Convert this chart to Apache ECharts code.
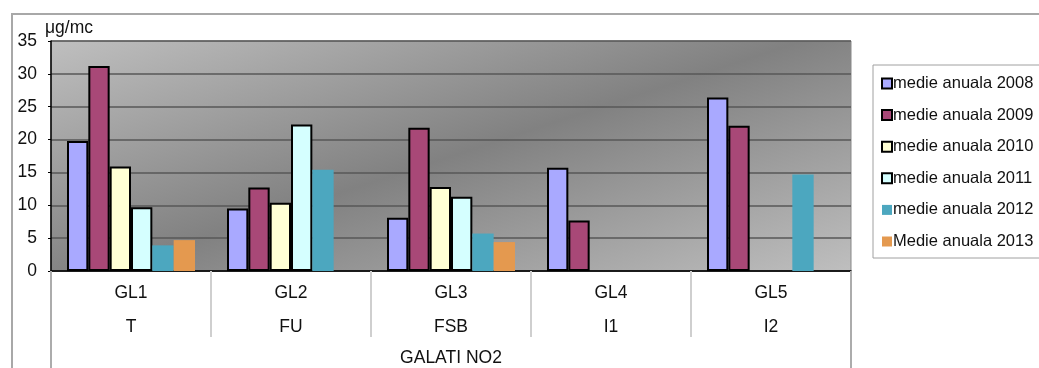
<!DOCTYPE html>
<html>
<head>
<meta charset="utf-8">
<script src="https://cdn.jsdelivr.net/npm/echarts@6/dist/echarts.min.js"></script>
<style>
  html, body { margin: 0; padding: 0; background: #ffffff; }
  #chart { width: 1039px; height: 368px; }
</style>
</head>
<body>
<div id="chart"></div>
<script>
// Annual NO2 means per monitoring station, Galati
const stations = ['GL1', 'GL2', 'GL3', 'GL4', 'GL5'];
const stationTypes = ['T', 'FU', 'FSB', 'I1', 'I2'];
const groupLabel = ['GALATI NO2'];
const unitLabel = 'μg/mc';

const seriesNames = [
  'medie anuala 2008',
  'medie anuala 2009',
  'medie anuala 2010',
  'medie anuala 2011',
  'medie anuala 2012',
  'Medie anuala 2013'
];

const mean2008 = [19.8, 9.5, 8.1, 15.7, 26.4];
const mean2009 = [31.2, 12.7, 21.8, 7.7, 22.1];
const mean2010 = [15.9, 10.4, 12.8, null, null];
const mean2011 = [9.7, 22.3, 11.3, null, null];
const mean2012 = [3.9, 15.4, 5.7, null, 14.7];
const mean2013 = [4.7, null, 4.4, null, null];

const yTicks = [0, 5, 10, 15, 20, 25, 30, 35];

const seriesValues = [mean2008, mean2009, mean2010, mean2011, mean2012, mean2013];
const fills = ['#a9a9ff', '#a84877', '#ffffd5', '#d5ffff', '#4ca7bf', '#e4994f'];
const outlined = [true, true, true, true, false, false];

const FONT = '"Liberation Sans", Arial, sans-serif';

const chart = echarts.init(document.getElementById('chart'), null, { renderer: 'canvas' });

const series = seriesValues.map((vals, i) => ({
  name: seriesNames[i],
  type: 'bar',
  data: vals,
  barGap: '0%',
  barCategoryGap: '20%',
  itemStyle: {
    color: fills[i],
    borderColor: outlined[i] ? '#000000' : fills[i],
    borderWidth: outlined[i] ? 2 : 0
  },
  emphasis: { disabled: true }
}));

chart.setOption({
  animation: false,
  backgroundColor: '#ffffff',
  textStyle: { fontFamily: FONT },
  graphic: [{
    type: 'rect',
    shape: { x: 12, y: 14, width: 1100, height: 420 },
    style: { fill: 'none', stroke: '#a8a8a8', lineWidth: 2 },
    silent: true,
    z: -10
  }],
  legend: {
    orient: 'vertical',
    left: 873,
    top: 65,
    padding: [10, 14, 8, 8],
    itemGap: 14.6,
    itemWidth: 10,
    itemHeight: 10,
    borderColor: '#a0a0a0',
    borderWidth: 1,
    icon: 'rect',
    selectedMode: false,
    textStyle: { fontFamily: FONT, fontSize: 16.5, color: '#111111', padding: [0, 0, 0, -4] },
    data: seriesNames
  },
  grid: {
    left: 51,
    top: 41,
    width: 800,
    height: 230,
    show: true,
    borderColor: '#888888',
    borderWidth: 1,
    backgroundColor: {
      type: 'linear',
      x: 0, y: 0, x2: 0.183, y2: 1.933,
      colorStops: [
        { offset: 0, color: '#bfbfbf' },
        { offset: 0.5, color: '#818181' },
        { offset: 1, color: '#bfbfbf' }
      ]
    }
  },
  xAxis: [{
    type: 'category',
    data: stations,
    position: 'bottom',
    axisLine: { show: true, lineStyle: { color: '#000000', width: 1.5 } },
    axisTick: { show: true, interval: 0, length: 66, lineStyle: { color: '#cfcfcf', width: 2 } },
    axisLabel: {
      interval: 0,
      margin: 5,
      fontFamily: FONT,
      fontSize: 17.5,
      lineHeight: 34,
      color: '#111111',
      formatter: (v, idx) => v + '\n' + stationTypes[idx]
    },
    splitLine: { show: false }
  }, {
    type: 'category',
    data: groupLabel,
    position: 'bottom',
    axisLine: { show: false },
    axisTick: { show: true, interval: 0, length: 97, lineStyle: { color: '#acacac', width: 2 } },
    axisLabel: { margin: 78, fontFamily: FONT, fontSize: 17.5, color: '#111111' },
    splitLine: { show: false }
  }],
  yAxis: {
    type: 'value',
    min: yTicks[0],
    max: yTicks[yTicks.length - 1],
    interval: yTicks[1] - yTicks[0],
    name: unitLabel,
    nameLocation: 'end',
    nameGap: 4,
    nameTextStyle: { fontFamily: FONT, fontSize: 17.5, color: '#111111', align: 'left', padding: [0, 0, 0, -6] },
    axisLine: { show: true, lineStyle: { color: '#000000', width: 1.5 } },
    axisTick: { show: true, length: 3, lineStyle: { color: '#000000' } },
    axisLabel: { margin: 14, fontFamily: FONT, fontSize: 17.5, color: '#111111' },
    splitLine: { show: true, lineStyle: { color: '#575757', width: 1.5 } }
  },
  series: series
});
</script>
</body>
</html>
